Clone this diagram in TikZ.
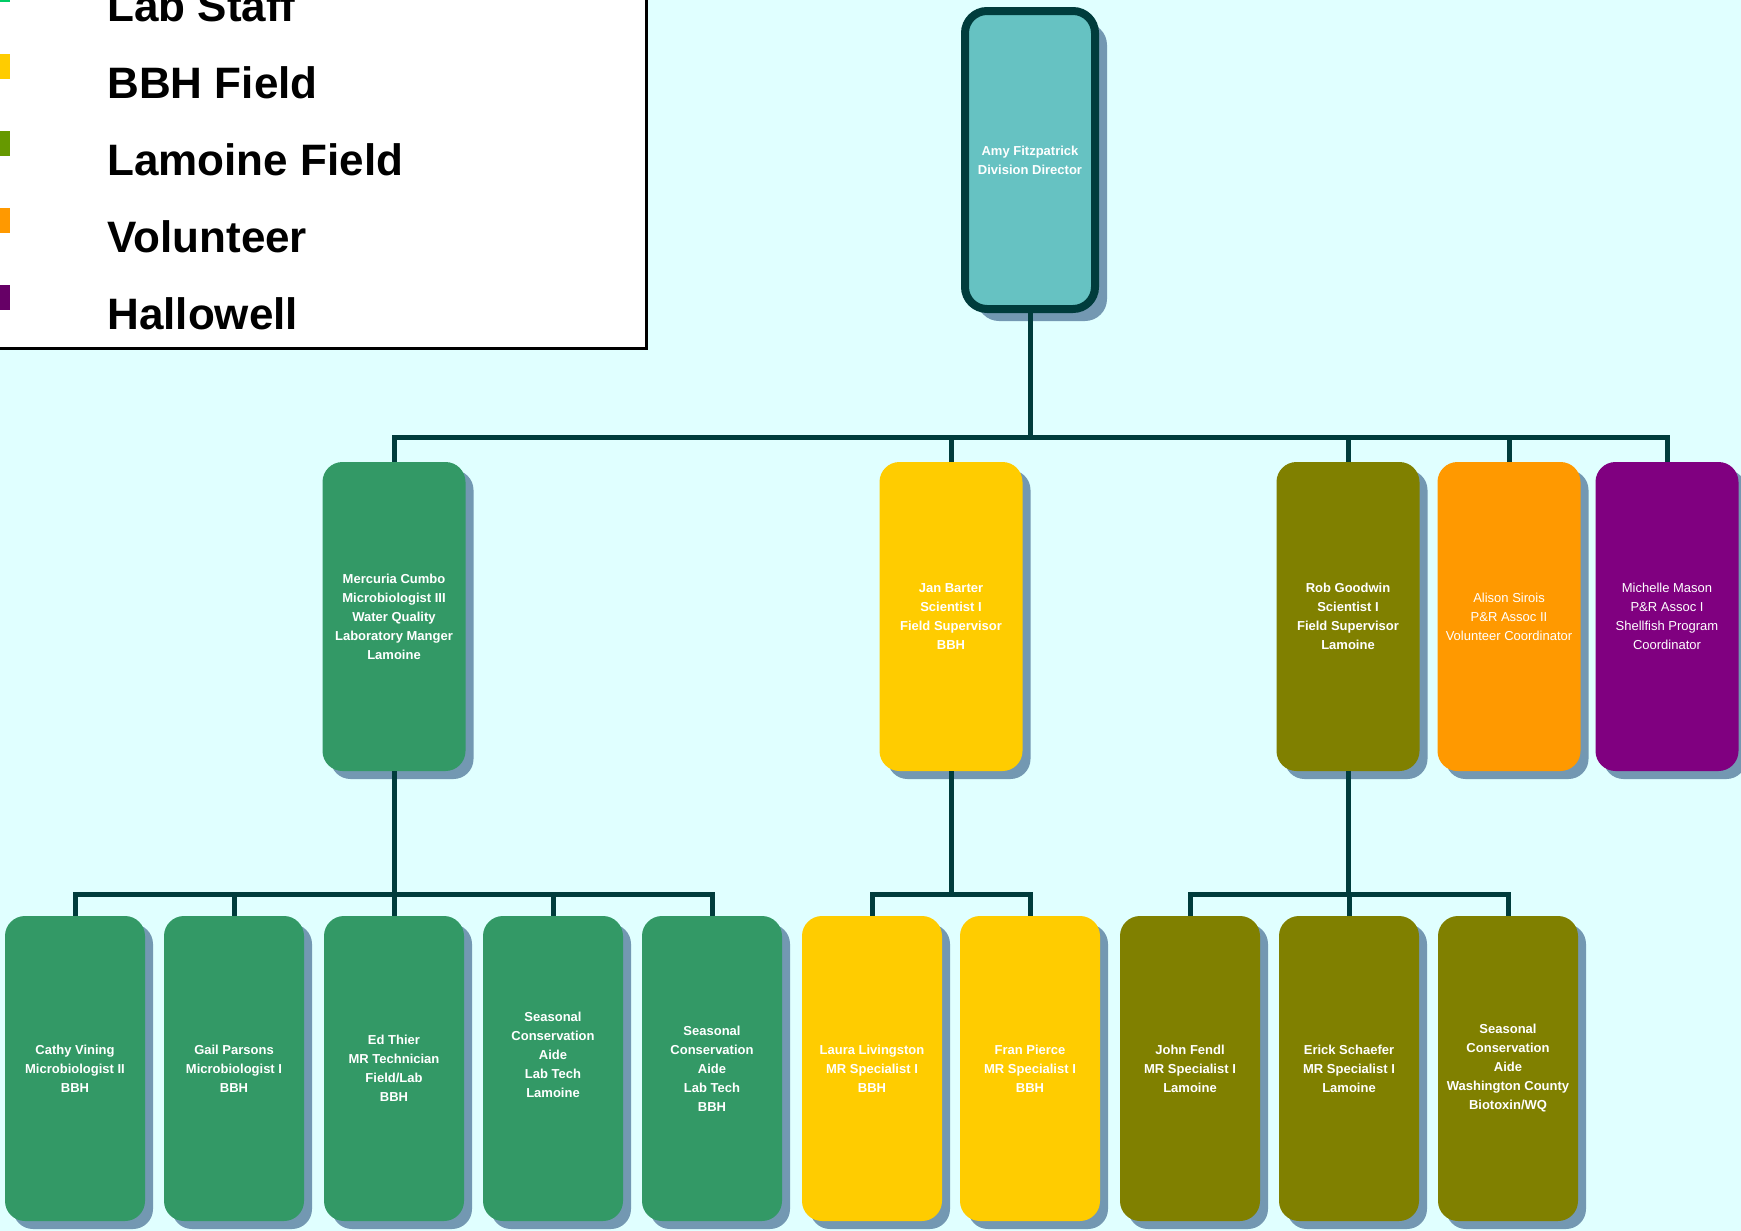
\documentclass[tikz,border=0pt]{standalone}
\usepackage{fontspec}
\setmainfont{Liberation Sans}
\usetikzlibrary{shadows}
\definecolor{bgc}{HTML}{E0FFFF}
\definecolor{linec}{HTML}{003C3C}
\definecolor{shadc}{HTML}{7398B2}
\definecolor{labg}{HTML}{339966}
\definecolor{bbhy}{HTML}{FFCC00}
\definecolor{lamo}{HTML}{808000}
\definecolor{volo}{HTML}{FF9900}
\definecolor{halp}{HTML}{800080}
\definecolor{dirc}{HTML}{66C2C2}
\definecolor{legLab}{HTML}{00CC66}
\definecolor{legLam}{HTML}{669900}
\definecolor{legHal}{HTML}{660066}
\begin{document}
\begin{tikzpicture}[x=0.5pt,y=-0.5pt,
 box/.style={rectangle, rounded corners=10pt, draw=none, text=white, align=center,
   font=\fontsize{6.5pt}{9.5pt}\selectfont\bfseries,
   drop shadow={shadow xshift=4pt, shadow yshift=-4pt, fill=shadc, opacity=1}, inner sep=0pt},
 mid/.style={box, minimum width=71.5pt, minimum height=154.5pt},
 low/.style={box, minimum width=70pt, minimum height=152.5pt},
 conn/.style={draw=linec, line width=2.5pt},
 legtext/.style={anchor=base west, font=\fontsize{22pt}{24pt}\selectfont\bfseries, inner sep=0pt},
 thinfont/.style={font=\fontsize{6.5pt}{9.5pt}\selectfont}
]
\useasboundingbox (0,0) rectangle (1741,1231);
\fill[bgc] (0,0) rectangle (1741,1231);

% legend
\begin{scope}
\clip (0,0) rectangle (1741,1231);
\draw[fill=white, line width=1.5pt] (-10,-10) rectangle (646,348);
\fill[legLab] (0,-23) rectangle (10,2);
\fill[bbhy] (0,54) rectangle (10,79);
\fill[legLam] (0,131) rectangle (10,156);
\fill[volo] (0,208) rectangle (10,233);
\fill[legHal] (0,285) rectangle (10,310);
\node[legtext] (l1) at (107,21) {Lab Staff};
\end{scope}
\node[legtext] (l2) at (107,98) {BBH Field};
\node[legtext] (l3) at (107,175) {Lamoine Field};
\node[legtext] (l4) at (107,252) {Volunteer};
\node[legtext] (l5) at (107,329) {Hallowell};

% top
\node[box, fill=dirc, draw=linec, line width=4pt, rounded corners=11pt, minimum width=65pt, minimum height=149pt,
  drop shadow={shadow xshift=6pt, shadow yshift=-6pt, fill=shadc, opacity=1}] (amy) at (1030,160) {Amy Fitzpatrick\\Division Director};

% middle row
\node[mid, fill=labg] (merc) at (394,616.5) {Mercuria Cumbo\\Microbiologist III\\Water Quality\\Laboratory Manger\\Lamoine};
\node[mid, fill=bbhy] (jan) at (951,616.5) {Jan Barter\\Scientist I\\Field Supervisor\\BBH};
\node[mid, fill=lamo] (rob) at (1348,616.5) {Rob Goodwin\\Scientist I\\Field Supervisor\\Lamoine};
\node[mid, fill=volo, thinfont] (alison) at (1509,616.5) {Alison Sirois\\P\&R Assoc II\\Volunteer Coordinator};
\node[mid, fill=halp, thinfont] (michelle) at (1667,616.5) {Michelle Mason\\P\&R Assoc I\\Shellfish Program\\Coordinator};

% bottom row
\node[low, fill=labg] (cathy) at (75,1068.5) {Cathy Vining\\Microbiologist II\\BBH};
\node[low, fill=labg] (gail) at (234,1068.5) {Gail Parsons\\Microbiologist I\\BBH};
\node[low, fill=labg] (ed) at (394,1068.5) {Ed Thier\\MR Technician\\Field/Lab\\BBH};
\node[low, fill=labg] (seasl) at (553,1068.5) {Seasonal\\Conservation\\Aide\\Lab Tech\\Lamoine\\[4.5pt]};
\node[low, fill=labg] (seasb) at (712,1068.5) {Seasonal\\Conservation\\Aide\\Lab Tech\\BBH};
\node[low, fill=bbhy] (laura) at (872,1068.5) {Laura Livingston\\MR Specialist I\\BBH};
\node[low, fill=bbhy] (fran) at (1030,1068.5) {Fran Pierce\\MR Specialist I\\BBH};
\node[low, fill=lamo] (john) at (1190,1068.5) {John Fendl\\MR Specialist I\\Lamoine};
\node[low, fill=lamo] (erick) at (1349,1068.5) {Erick Schaefer\\MR Specialist I\\Lamoine};
\node[low, fill=lamo] (seasw) at (1508,1068.5) {Seasonal\\Conservation\\Aide\\Washington County\\Biotoxin/WQ};

% connectors
\coordinate (b1) at (1030,437);
\draw[conn] (amy.south) -- (b1);
\foreach \n in {merc,jan,rob,alison,michelle} \draw[conn] (b1) -| (\n.north);
\coordinate (b2) at (394,894);
\draw[conn] (merc.south) -- (b2);
\foreach \n in {cathy,gail,ed,seasl,seasb} \draw[conn] (b2) -| (\n.north);
\coordinate (b3) at (951,894);
\draw[conn] (jan.south) -- (b3);
\foreach \n in {laura,fran} \draw[conn] (b3) -| (\n.north);
\coordinate (b4) at (1348,894);
\draw[conn] (rob.south) -- (b4);
\foreach \n in {john,erick,seasw} \draw[conn] (b4) -| (\n.north);
\end{tikzpicture}
\end{document}
